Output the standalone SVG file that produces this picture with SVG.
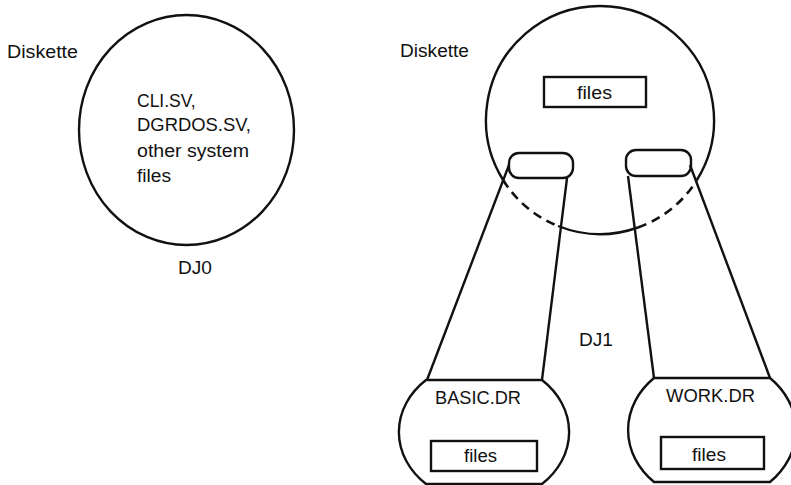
<svg xmlns="http://www.w3.org/2000/svg" width="791" height="485" viewBox="0 0 791 485">
  <style>
    .ln { fill: none; stroke: #111; stroke-width: 2.4; stroke-linejoin: round; }
    .box { fill: none; stroke: #111; stroke-width: 2.4; }
    .dash { fill: none; stroke: #111; stroke-width: 2.6; stroke-dasharray: 9 6; }
    .t { font-family: "Liberation Sans", Arial, sans-serif; font-size: 17.5px; fill: #111; }
  </style>
  <rect x="0" y="0" width="791" height="485" fill="#ffffff"/>

  <g id="disk-dj0">
    <text class="t" x="7" y="58" textLength="71" lengthAdjust="spacingAndGlyphs">Diskette</text>
    <ellipse class="ln" cx="186.5" cy="130" rx="107.5" ry="115"/>
    <text class="t" x="137" y="107">CLI.SV,</text>
    <text class="t" x="137" y="131" textLength="114" lengthAdjust="spacingAndGlyphs">DGRDOS.SV,</text>
    <text class="t" x="137" y="157" textLength="112" lengthAdjust="spacingAndGlyphs">other system</text>
    <text class="t" x="137" y="182" textLength="34" lengthAdjust="spacingAndGlyphs">files</text>
    <text class="t" x="178" y="274" textLength="34" lengthAdjust="spacingAndGlyphs">DJ0</text>
  </g>

  <g id="disk-dj1">
    <text class="t" x="400" y="57" textLength="69" lengthAdjust="spacingAndGlyphs">Diskette</text>
    <path class="ln" d="M503.1,180 A114,114 0 1,1 696.9,180"/>
    <path class="ln" d="M558,226 A114,114 0 0,0 638,227.5"/>
    <path class="dash" d="M503.1,180 A114,114 0 0,0 558,226"/>
    <path class="dash" d="M638,227.5 A114,114 0 0,0 696.9,180"/>
    <rect class="box" x="544" y="77" width="102" height="30"/>
    <text class="t" x="577" y="99" textLength="35" lengthAdjust="spacingAndGlyphs">files</text>
    <rect class="ln" x="509" y="153" width="64" height="25" rx="10" ry="10" fill="#fff"/>
    <rect class="ln" x="626" y="150" width="65" height="26" rx="10" ry="10" fill="#fff"/>
    <text class="t" x="579" y="346" textLength="34" lengthAdjust="spacingAndGlyphs">DJ1</text>
  </g>

  <g id="connectors">
    <line class="ln" x1="509" y1="165" x2="427" y2="380"/>
    <line class="ln" x1="567" y1="178" x2="542" y2="380"/>
    <line class="ln" x1="628" y1="176" x2="654" y2="378"/>
    <line class="ln" x1="690" y1="165" x2="770" y2="378"/>
  </g>

  <g id="dir-basic">
    <path class="ln" d="M426,380 L542,380 A85,71 0 0,1 542,484 L426,484 A85,71 0 0,1 426,380 Z"/>
    <text class="t" x="435" y="404" textLength="86" lengthAdjust="spacingAndGlyphs">BASIC.DR</text>
    <rect class="box" x="431" y="441" width="106" height="30"/>
    <text class="t" x="464" y="462" textLength="33" lengthAdjust="spacingAndGlyphs">files</text>
  </g>

  <g id="dir-work">
    <path class="ln" d="M654,378 L770,378 A84,72 0 0,1 770,482 L654,482 A84,72 0 0,1 654,378 Z"/>
    <text class="t" x="666" y="402" textLength="89" lengthAdjust="spacingAndGlyphs">WORK.DR</text>
    <rect class="box" x="661" y="437" width="103" height="32"/>
    <text class="t" x="692" y="461" textLength="34" lengthAdjust="spacingAndGlyphs">files</text>
  </g>
</svg>
